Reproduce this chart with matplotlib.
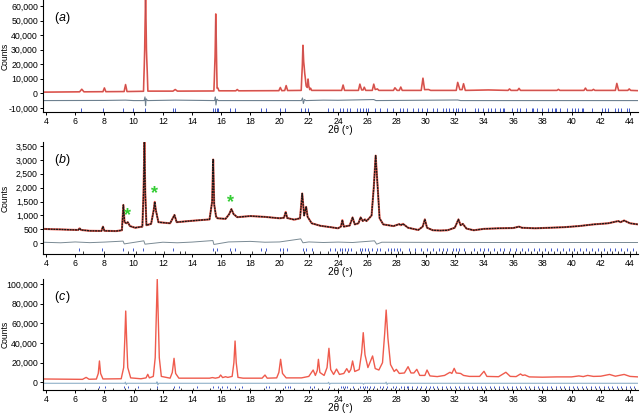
import matplotlib
matplotlib.use("Agg")
import matplotlib.pyplot as plt
from matplotlib.ticker import FuncFormatter

plt.rcParams['font.family'] = ['Liberation Sans', 'DejaVu Sans']

# ---------------- data: panel (a) ----------------
calc_a = [(3.76, 800), (6.3, 1000), (6.45, 2800), (6.6, 1000), (7.9, 1100), (8.0, 3700), (8.1, 1100),
          (9.35, 1200), (9.45, 6000), (9.55, 1200), (10.68, 1400), (10.76, 30000), (10.82, 70000),
          (10.88, 30000), (10.98, 1500), (12.7, 1500), (12.85, 2600), (13.0, 1500), (15.5, 1600),
          (15.58, 25000), (15.63, 54500), (15.68, 25000), (15.72, 3500), (15.76, 3800), (15.85, 1700),
          (17.0, 1700), (17.1, 2600), (17.2, 1700), (19.95, 1800), (20.05, 4000), (20.15, 1800),
          (20.35, 1900), (20.45, 5300), (20.55, 1900), (21.48, 2000), (21.56, 20000), (21.6, 33000),
          (21.65, 22000), (21.72, 14000), (21.82, 5000), (21.9, 4000), (21.95, 9800), (22.0, 5000),
          (22.07, 2500), (22.12, 3500), (22.2, 2000), (24.25, 2000), (24.35, 5700), (24.45, 2000),
          (25.4, 2000), (25.5, 6300), (25.62, 2300), (25.72, 2300), (25.8, 4200), (25.9, 2000),
          (26.35, 2000), (26.45, 6300), (26.55, 2600), (26.7, 3000), (26.8, 2000), (27.8, 2000),
          (27.9, 3800), (28.05, 2000), (28.2, 2000), (28.3, 4300), (28.4, 2000), (29.7, 2000),
          (29.82, 10400), (29.93, 2500), (30.2, 2600), (30.35, 2000), (32.1, 2000), (32.2, 7500),
          (32.35, 2500), (32.5, 2500), (32.6, 6600), (32.72, 2000), (34.3, 2300), (35.65, 2000),
          (35.75, 3000), (35.85, 2000), (36.3, 2000), (36.4, 3400), (36.5, 2000), (39.0, 2000),
          (39.1, 2700), (39.2, 2000), (40.85, 2000), (40.95, 3600), (41.05, 2000), (41.4, 2000),
          (41.5, 2700), (41.6, 2000), (43.0, 2000), (43.1, 6800), (43.22, 2000), (43.85, 2000),
          (43.95, 3000), (44.05, 2000), (44.55, 1800)]
diff_a = [(3.76, -5000), (8.0, -4900), (9.45, -4700), (10.0, -5000), (10.72, -5000), (10.78, -2500),
          (10.82, -8500), (10.86, -3800), (10.95, -5000), (12.85, -4700), (15.55, -5000), (15.6, -2500),
          (15.64, -8000), (15.7, -4000), (15.8, -5000), (21.5, -5000), (21.57, -3200), (21.63, -7000),
          (21.7, -4300), (21.8, -5000), (23.0, -4700), (24.0, -4800), (26.45, -4300), (26.6, -5000),
          (32.2, -4600), (32.4, -5000), (44.55, -5000)]
refl_a = [6.40, 7.88, 9.30, 9.94, 10.78, 12.72, 12.85, 15.46, 15.60, 15.70, 15.80, 16.60, 16.95,
          18.73, 19.10, 20.03, 20.37, 21.50, 21.74, 21.97, 23.34, 23.68, 24.14, 24.37, 24.60, 24.83,
          25.28, 25.50, 25.73, 25.90, 26.07, 26.53, 26.88, 27.33, 27.79, 28.25, 28.47, 28.70, 29.16,
          29.50, 29.73, 30.07, 30.50, 30.75, 31.20, 31.40, 31.60, 31.90, 32.10, 32.20, 32.47, 32.70,
          33.40, 33.60, 33.95, 34.30, 34.50, 34.75, 35.10, 35.30, 35.40, 35.90, 36.24, 36.50, 36.90,
          37.27, 37.38, 37.60, 37.95, 38.40, 38.65, 38.86, 38.95, 39.20, 39.66, 40.00, 40.25, 40.46,
          40.70, 40.80, 41.38, 42.06, 42.30, 42.50, 42.97, 43.20, 43.40, 43.77, 43.90]

# ---------------- data: panel (b) ----------------
calc_b = [(3.76, 520), (4.5, 505), (5.0, 500), (5.5, 490), (6.2, 480), (6.3, 540), (6.4, 480),
          (7.0, 450), (7.8, 445), (7.9, 600), (8.0, 450), (8.8, 440), (9.2, 470), (9.3, 1380),
          (9.38, 760), (9.5, 720), (9.6, 760), (9.75, 620), (10.1, 560), (10.6, 600), (10.68, 1800),
          (10.74, 3640), (10.8, 1800), (10.88, 650), (11.2, 700), (11.38, 1200), (11.45, 1490),
          (11.52, 1200), (11.7, 760), (12.5, 720), (12.8, 1020), (12.95, 760), (14.0, 810),
          (15.2, 860), (15.38, 1500), (15.45, 3010), (15.52, 1400), (15.65, 960), (15.75, 900),
          (16.3, 880), (16.55, 1050), (16.7, 1230), (16.85, 1050), (17.1, 940), (18.0, 980),
          (19.0, 950), (20.0, 900), (20.3, 920), (20.42, 1130), (20.52, 910), (21.0, 850),
          (21.4, 900), (21.55, 1790), (21.68, 1000), (21.82, 1310), (21.92, 950), (22.2, 720),
          (22.8, 630), (23.5, 580), (24.0, 540), (24.2, 600), (24.3, 835), (24.4, 600), (24.8, 640),
          (25.0, 930), (25.15, 680), (25.4, 720), (25.55, 930), (25.7, 800), (25.85, 860),
          (25.95, 800), (26.1, 880), (26.3, 1000), (26.45, 2000), (26.58, 3150), (26.72, 2000),
          (26.85, 900), (27.1, 680), (27.8, 620), (28.2, 690), (28.3, 650), (28.45, 700),
          (28.8, 560), (29.5, 480), (29.8, 600), (29.95, 860), (30.1, 560), (30.5, 470), (31.0, 460),
          (31.5, 470), (32.0, 560), (32.25, 860), (32.4, 650), (32.55, 700), (32.8, 530),
          (33.3, 470), (34.0, 520), (35.0, 540), (36.0, 550), (36.4, 600), (36.6, 560), (37.5, 540),
          (38.5, 560), (39.5, 580), (40.5, 620), (41.5, 680), (42.5, 720), (43.2, 800),
          (43.35, 760), (43.6, 820), (44.0, 720), (44.55, 680)]
diff_b = [(3.76, 40), (5, 20), (6, 50), (7, 25), (8, 45), (9.28, 80), (9.36, -20), (10.7, 90),
          (10.78, -30), (12, 40), (13, 20), (14, 45), (15.43, 100), (15.5, -40), (16.5, 50),
          (18, 70), (19, 40), (20, 50), (21.45, 160), (21.6, 20), (22, 50), (23, 30), (24, 45),
          (25, 30), (26.5, 90), (26.65, -30), (27, 40), (30, 35), (35, 30), (40, 30), (44.55, 30)]
refl_b1 = [6.26, 7.81, 9.30, 9.94, 10.66, 12.72, 15.46, 15.70, 16.60, 16.95, 18.75, 19.10, 20.03,
           20.26, 20.50, 21.60, 21.83, 22.20, 23.45, 23.80, 24.14, 24.30, 24.50, 24.70, 24.90,
           25.50, 25.65, 25.85, 26.05, 26.30, 26.70, 26.90, 27.40, 27.60, 27.85, 28.05, 28.25,
           28.85, 29.30, 29.70, 30.10, 30.50, 30.90, 31.20, 31.50, 31.90, 32.10, 32.30, 32.60,
           33.30, 33.70, 34.00, 34.30, 34.70, 35.10, 35.40, 35.80, 36.20, 36.60, 37.00, 37.40,
           37.80, 38.20, 38.60, 39.00, 39.40, 39.80, 40.20, 40.60, 41.00, 41.40, 41.80, 42.20,
           42.60, 43.00, 43.40, 43.80, 44.20]
refl_b2 = [6.55, 7.95, 9.60, 10.15, 11.45, 12.05, 13.20, 13.50, 15.55, 16.70, 17.30, 18.10,
           19.00, 20.20, 21.70, 22.30, 22.80, 23.30, 23.90, 24.25, 24.60, 25.20, 25.60, 26.10,
           26.60, 27.20, 27.60, 28.10, 28.40, 28.90, 29.30, 29.80, 30.30, 30.70, 31.10, 31.40,
           31.80, 32.20, 32.70, 33.10, 33.50, 33.90, 34.40, 34.90, 35.30, 35.70, 36.10, 36.50,
           36.80, 37.20, 37.60, 38.00, 38.40, 38.80, 39.20, 39.60, 40.00, 40.40, 40.80, 41.20,
           41.60, 42.00, 42.40, 42.80, 43.20, 43.60, 44.00, 44.40]
star_x = [9.6, 11.4, 16.65]
star_y = [1000, 1780, 1470]

# ---------------- data: panel (c) ----------------
calc_c = [(3.76, 3400), (5.0, 3200), (6.5, 3000), (6.75, 5000), (6.95, 3100), (7.45, 3300),
          (7.58, 9000), (7.66, 21700), (7.74, 9000), (7.9, 3400), (9.15, 3600), (9.32, 15000),
          (9.4, 45000), (9.46, 72500), (9.52, 45000), (9.6, 15000), (9.8, 4500), (10.5, 3600),
          (10.85, 4500), (10.97, 8100), (11.08, 4500), (11.35, 6000), (11.48, 25000),
          (11.56, 70000), (11.62, 104800), (11.68, 70000), (11.76, 25000), (11.9, 6000),
          (12.5, 4200), (12.65, 10000), (12.77, 24400), (12.88, 9000), (13.1, 4200), (15.2, 4200),
          (15.4, 4800), (15.6, 4200), (15.85, 5000), (15.96, 7400), (16.1, 4800), (16.3, 5700),
          (16.45, 5000), (16.75, 6000), (16.87, 20000), (16.95, 42000), (17.03, 20000),
          (17.15, 5000), (17.5, 4200), (18.8, 4200), (19.0, 7400), (19.15, 4200), (19.8, 4500),
          (19.95, 10000), (20.07, 23400), (20.2, 9000), (20.45, 4500), (21.5, 4500), (22.0, 6000),
          (22.3, 12500), (22.45, 7000), (22.58, 12000), (22.66, 23400), (22.76, 10000),
          (23.05, 7000), (23.25, 15000), (23.38, 34600), (23.5, 13000), (23.7, 8000),
          (23.9, 13500), (24.1, 8000), (24.4, 9000), (24.6, 13900), (24.75, 10000), (24.88, 13000),
          (25.0, 21700), (25.15, 11000), (25.45, 13000), (25.62, 30000), (25.73, 50500),
          (25.85, 28000), (26.05, 15000), (26.37, 26800), (26.55, 14000), (26.8, 12500),
          (27.05, 20000), (27.2, 50000), (27.3, 73500), (27.42, 45000), (27.6, 18000),
          (27.85, 11000), (28.0, 13200), (28.2, 9000), (28.55, 9500), (28.8, 15900), (29.0, 9500),
          (29.2, 9500), (29.4, 13200), (29.6, 7000), (29.95, 7000), (30.1, 12500), (30.3, 6500),
          (30.8, 5800), (31.3, 7000), (31.67, 10200), (31.8, 9000), (31.96, 14200), (32.1, 9500),
          (32.4, 9000), (32.6, 7000), (33.0, 6000), (33.7, 6000), (34.0, 11200), (34.2, 6000),
          (35.0, 5700), (35.5, 10200), (35.8, 6000), (36.2, 5800), (36.5, 8500), (36.65, 7000),
          (36.8, 7500), (37.1, 5500), (38.0, 5200), (39.0, 5500), (40.0, 5500), (40.5, 6500),
          (40.8, 5800), (41.1, 7000), (41.5, 6000), (42.0, 6200), (42.6, 8000), (43.0, 6200),
          (43.6, 8000), (44.0, 6000), (44.55, 5500)]
diff_c = [(3.76, -1000), (9.4, -1000), (9.44, 200), (9.5, -2200), (9.56, -1000), (11.56, -1000),
          (11.6, 500), (11.66, -2500), (11.72, -1000), (23.3, -1000), (23.36, 0), (23.42, -2000),
          (23.5, -1000), (25.7, -1000), (25.75, -2000), (25.8, -1000), (27.25, -1000), (27.3, 200),
          (27.36, -2200), (27.42, -1000), (44.55, -1000)]
refl_c1 = [7.65, 8.06, 9.34, 9.60, 10.32, 11.58, 12.77, 13.10, 14.32, 15.46, 15.80, 16.03, 16.37,
           16.95, 17.40, 19.10, 19.30, 20.37, 20.60, 20.70, 22.10, 22.35, 23.40, 24.20, 24.35,
           24.45, 24.60, 25.00, 25.50, 25.70, 25.85, 26.00, 26.20, 26.50, 26.90, 27.10, 27.35,
           27.80, 28.00, 28.30, 28.55, 28.70, 28.80, 29.10, 29.40, 29.70, 30.00, 30.30, 30.50,
           30.80, 31.10, 31.40, 31.70, 32.00, 32.30, 32.60, 32.90, 33.20, 33.50, 33.80, 34.10,
           34.40, 34.70, 35.00, 35.30, 35.60, 35.90, 36.20, 36.50, 36.80, 37.10, 37.40, 37.70,
           38.00, 38.30, 38.60, 38.90, 39.20, 39.50, 39.80, 40.10, 40.40, 40.70, 41.00, 41.30,
           41.60, 41.90, 42.20, 42.50, 42.80, 43.10, 43.40, 43.70, 44.00, 44.30]
refl_c2 = [6.67, 7.58, 8.60, 9.42, 10.10, 11.12, 11.62, 12.70, 13.27, 14.06, 15.20, 15.90, 16.60,
           17.20, 18.00, 18.90, 19.70, 20.20, 21.00, 21.60, 22.20, 22.60, 22.90, 23.30, 23.70,
           24.00, 24.40, 24.80, 25.10, 25.40, 25.80, 26.10, 26.40, 26.70, 27.00, 27.30, 27.60,
           27.90, 28.20, 28.50, 28.80, 29.05, 29.35, 29.65, 29.95, 30.25, 30.55, 30.85, 31.15,
           31.45, 31.75, 32.05, 32.35, 32.65, 32.95, 33.25, 33.55, 33.85, 34.15, 34.45, 34.75,
           35.05, 35.35, 35.65, 35.95, 36.25, 36.55, 36.85, 37.15, 37.45, 37.75, 38.05, 38.35,
           38.65, 38.95, 39.25, 39.55, 39.85, 40.15, 40.45, 40.75, 41.05, 41.35, 41.65, 41.95,
           42.25, 42.55, 42.85, 43.15, 43.45, 43.75, 44.05, 44.35]

x_ticks = list(range(4, 45, 2))
y_ticks_a = list(range(-10000, 60001, 10000))
y_ticks_b = list(range(0, 3501, 500))
y_ticks_c = list(range(0, 100001, 20000))

# ---------------- styling ----------------
RED = '#ef5b4d'
BLUE = '#3f55c8'
DARK = '#1a1a1a'
XLIM = (3.76, 44.55)
W = 640
H = 415

fig = plt.figure(figsize=(6.4, 4.15), dpi=100)


def make_axes(top_px, bottom_px):
    left = 42.5 / W
    right = 638 / W
    return fig.add_axes([left, 1 - bottom_px / H, right - left, (bottom_px - top_px) / H])


def draw(ax, pts, **kw):
    ax.plot([p[0] for p in pts], [p[1] for p in pts], **kw)


# ---- panel (a)
axa = make_axes(0, 112)
draw(axa, diff_a, color='#6e8190', lw=0.8)
axa.vlines(refl_a, -10300, -12850, color=BLUE, lw=0.7)
draw(axa, calc_a, color=RED, lw=1.2)
draw(axa, calc_a, color='#1c2a6a', lw=0.3, alpha=0.35)

# ---- panel (b)
axb = make_axes(142, 254)
draw(axb, diff_b, color='#7a8a94', lw=0.7)
axb.vlines(refl_b1, -150, -270, color=BLUE, lw=0.7)
axb.vlines(refl_b2, -270, -383, color=DARK, lw=0.6)
draw(axb, calc_b, color=RED, lw=1.5)
draw(axb, calc_b, color=DARK, lw=1.0, linestyle=(0, (1.5, 0.45)))
for sx, sy in zip(star_x, star_y):
    axb.text(sx, sy, '*', color='#33cc33', fontsize=13, fontweight='bold', ha='center', va='center')

# ---- panel (c)
axc = make_axes(279, 390)
draw(axc, diff_c, color='#8fb0c8', lw=0.8)
axc.vlines(refl_c1, -3500, -6000, color=BLUE, lw=0.7)
axc.vlines(refl_c2, -5800, -7830, color=DARK, lw=0.6)
draw(axc, calc_c, color=RED, lw=1.0)

fmt = FuncFormatter(lambda v, p: f"{int(round(v)):,}")
setup = ((axa, (-12850, 64100), y_ticks_a, 'a', 112, 56),
         (axb, (-383, 3640), y_ticks_b, 'b', 254, 198),
         (axc, (-7830, 105100), y_ticks_c, 'c', 390, 334))
for ax, yl, yt, lab, bottom_px, mid_px in setup:
    ax.set_xlim(*XLIM)
    ax.set_ylim(*yl)
    for s in ('top', 'right'):
        ax.spines[s].set_visible(False)
    for s in ('left', 'bottom'):
        ax.spines[s].set_linewidth(0.8)
    ax.set_xticks(x_ticks)
    ax.set_yticks(yt)
    ax.yaxis.set_major_formatter(fmt)
    ax.tick_params(axis='both', direction='out', length=2.5, width=0.7, labelsize=6.3, pad=0.8)
    fig.text(5 / W, 1 - mid_px / H, 'Counts', rotation=90, fontsize=6.2, ha='center', va='center')
    fig.text(340 / W, 1 - (bottom_px + 18) / H, '2θ (°)', fontsize=7.2, ha='center', va='center')
    ytop = 0.84
    ax.text(0.020, ytop, '(', transform=ax.transAxes, fontsize=9, va='center', ha='left')
    ax.text(0.027, ytop, lab, transform=ax.transAxes, fontsize=9, va='center', ha='left',
            style='italic')
    ax.text(0.039, ytop, ')', transform=ax.transAxes, fontsize=9, va='center', ha='left')

fig.savefig('out.png', dpi=100)
